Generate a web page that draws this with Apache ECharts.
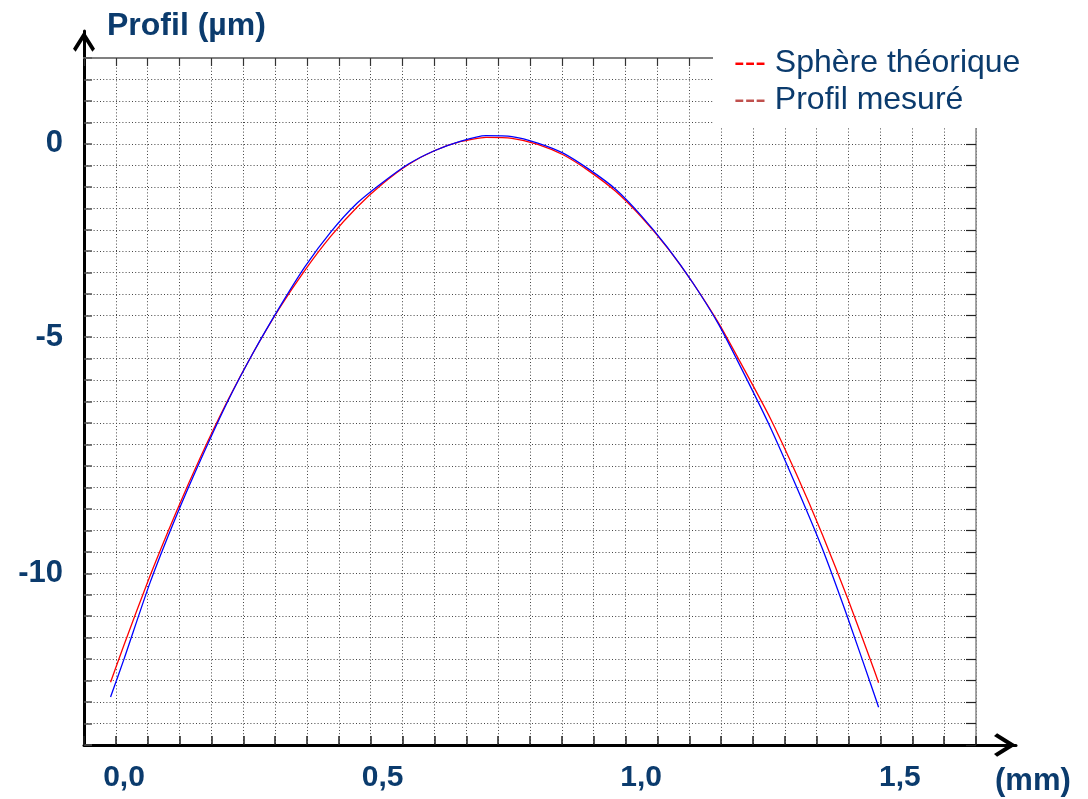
<!DOCTYPE html>
<html><head><meta charset="utf-8">
<script src="https://cdn.jsdelivr.net/npm/echarts@6/dist/echarts.min.js"></script>
<style>html,body{margin:0;padding:0;background:#fff}#c{width:1088px;height:799px}</style>
</head><body><div id="c"></div>
<script>
// ---- data (x in mm, profile in µm) ----
const xMm = [-0.026, 0.00, 0.05, 0.10, 0.15, 0.20, 0.25, 0.30, 0.35, 0.40, 0.45, 0.50, 0.55, 0.60, 0.65, 0.70, 0.75, 0.80, 0.85, 0.90, 0.95, 1.00, 1.05, 1.10, 1.15, 1.20, 1.25, 1.30, 1.35, 1.40, 1.45, 1.459];
const sphereTheo = [-12.54, -11.67, -10.07, -8.60, -7.24, -5.99, -4.86, -3.84, -2.94, -2.15, -1.48, -0.93, -0.48, -0.16, 0.05, 0.15, 0.13, -0.01, -0.26, -0.64, -1.10, -1.70, -2.41, -3.24, -4.18, -5.27, -6.40, -7.69, -9.09, -10.61, -12.24, -12.55];
const profilMes = [-12.88, -12.00, -10.23, -8.70, -7.31, -6.01, -4.86, -3.82, -2.86, -2.05, -1.39, -0.90, -0.47, -0.16, 0.06, 0.19, 0.17, 0.02, -0.22, -0.60, -1.05, -1.67, -2.40, -3.24, -4.21, -5.38, -6.61, -7.98, -9.42, -11.06, -12.80, -13.12];
const seriesNames = ['Sphère théorique', 'Profil mesuré'];
const xTickValues = [0, 0.5, 1.0, 1.5];
const yTickValues = [0, -4.5, -10];
const yTickLabels = ['0', '-5', '-10'];

// ---- styling ----
const NAVY = '#0b3b6d';
const FONT = 'Liberation Sans, Arial, Helvetica, sans-serif';
const ARROW = 'path://M50,0 L100,80 L88,93 L50,33 L12,93 L0,80 Z';
const X_MIN = -0.07734, X_MAX = 1.64733;   // data-axis extent across the plot frame
const dots = { color: '#444', width: 1, type: [1, 2.2] };

const chart = echarts.init(document.getElementById('c'), null, { renderer: 'canvas' });
chart.setOption({
  animation: false,
  backgroundColor: '#fff',
  title: [{
    text: '(mm)', left: 995, top: 766, padding: 0,
    textStyle: { fontFamily: FONT, fontSize: 31, fontWeight: 'bold', color: NAVY }
  }],
  grid: [
    { left: 84, right: 72, top: 31, bottom: 54, outerBoundsMode: 'none' },   // axes with arrows
    { left: 84, right: 112, top: 58, bottom: 54, outerBoundsMode: 'none' }   // plot frame
  ],
  legend: {
    data: seriesNames,
    orient: 'vertical',
    left: 713, top: 42,
    padding: [5, 90, 12, 16],
    itemGap: 5,
    itemWidth: 0, itemHeight: 10,
    icon: 'none',
    selectedMode: false,
    backgroundColor: '#fff',
    textStyle: { fontFamily: FONT, fontSize: 32, color: NAVY,
      rich: {
        r1: { color: '#ff0000', fontSize: 32, fontFamily: FONT },
        r2: { color: '#c0504d', fontSize: 32, fontFamily: FONT },
        t: { color: NAVY, fontSize: 32, fontFamily: FONT }
      } },
    formatter: function (name) {
      return (name === seriesNames[0] ? '{r1|---} ' : '{r2|---} ') + '{t|' + name + '}';
    }
  },
  xAxis: [
    { gridIndex: 0, type: 'value', min: 0, max: 1, position: 'bottom',
      axisLine: { show: true, onZero: false, lineStyle: { color: '#000', width: 3 },
        symbol: ['none', ARROW], symbolSize: [24, 22], symbolOffset: [0, -11] },
      axisTick: { show: false }, axisLabel: { show: false }, splitLine: { show: false } },
    { gridIndex: 1, type: 'value', min: 0, max: 28, interval: 1, position: 'bottom',
      axisLine: { show: false, onZero: false },
      axisTick: { show: true, inside: true, length: 9, lineStyle: { color: '#222', width: 1.5 } },
      axisLabel: { show: false },
      splitLine: { show: true, lineStyle: dots } },
    { gridIndex: 1, type: 'value', min: 0, max: 28, interval: 1, position: 'top',
      axisLine: { show: true, onZero: false, lineStyle: { color: '#808080', width: 2 } },
      axisTick: { show: true, inside: true, length: 8, lineStyle: { color: '#333', width: 1.2 } },
      axisLabel: { show: false }, splitLine: { show: false } },
    { gridIndex: 1, type: 'value', min: X_MIN, max: X_MAX, position: 'bottom',
      axisLine: { show: false, onZero: false }, axisTick: { show: false }, splitLine: { show: false },
      axisLabel: { show: true, customValues: xTickValues, margin: 18,
        fontFamily: FONT, fontSize: 30, fontWeight: 'bold', color: NAVY,
        formatter: function (v) { return v.toFixed(1).replace('.', ','); } } }
  ],
  yAxis: [
    { gridIndex: 0, type: 'value', min: 0, max: 1,
      axisLine: { show: true, onZero: false, lineStyle: { color: '#000', width: 3 },
        symbol: ['none', ARROW], symbolSize: [22, 21], symbolOffset: [0, -10.5] },
      axisTick: { show: false }, axisLabel: { show: false }, splitLine: { show: false },
      name: 'Profil (µm)', nameLocation: 'end', nameGap: 5, nameMoveOverlap: false,
      nameTextStyle: { fontFamily: FONT, fontSize: 32, fontWeight: 'bold', color: NAVY,
        align: 'left', verticalAlign: 'middle', padding: [0, 0, 0, 23] } },
    { gridIndex: 1, type: 'value', min: -14, max: 2, interval: 0.5, position: 'left',
      axisLine: { show: false, onZero: false },
      axisTick: { show: true, inside: true, length: 8, lineStyle: { color: '#555', width: 1.5 } },
      splitLine: { show: true, lineStyle: dots },
      axisLabel: { show: true, customValues: yTickValues, margin: 21,
        fontFamily: FONT, fontSize: 31, fontWeight: 'bold', color: NAVY,
        formatter: function (v) { const i = yTickValues.indexOf(v); return i >= 0 ? yTickLabels[i] : ''; } } },
    { gridIndex: 1, type: 'value', min: -14, max: 2, interval: 0.5, position: 'right',
      axisLine: { show: true, onZero: false, lineStyle: { color: '#888', width: 1.5 } },
      axisTick: { show: true, inside: true, length: 10, lineStyle: { color: '#222', width: 1.2 } },
      axisLabel: { show: false }, splitLine: { show: false } }
  ],
  series: [
    { name: seriesNames[0], type: 'line', xAxisIndex: 3, yAxisIndex: 1, showSymbol: false,
      smooth: 0.2, lineStyle: { color: '#ff0000', width: 1.3 }, itemStyle: { color: '#ff0000' },
      data: xMm.map((x, i) => [x, sphereTheo[i]]) },
    { name: seriesNames[1], type: 'line', xAxisIndex: 3, yAxisIndex: 1, showSymbol: false,
      smooth: 0.2, lineStyle: { color: '#0000ff', width: 1.3 }, itemStyle: { color: '#0000ff' },
      data: xMm.map((x, i) => [x, profilMes[i]]) }
  ]
});
</script></body></html>
